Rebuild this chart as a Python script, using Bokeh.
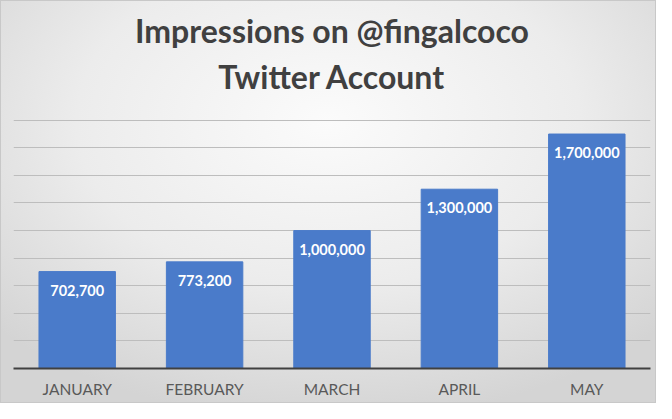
from bokeh.plotting import figure
from bokeh.models import ColumnDataSource, LabelSet, Title, Range1d, FixedTicker
from bokeh.embed import file_html
from bokeh.resources import INLINE
from bokeh.core.properties import value

title_lines = ["Impressions on @fingalcoco", "Twitter Account"]
months = ["JANUARY", "FEBRUARY", "MARCH", "APRIL", "MAY"]
impressions = [702700, 773200, 1000000, 1300000, 1700000]
labels = [f"{v:,}" for v in impressions]
grid_ticks = [200000 * i for i in range(10)]
y_max = 1800000

src = ColumnDataSource(dict(month=months, value=impressions, label=labels))

p = figure(x_range=months, y_range=Range1d(0, y_max * 1.003), width=656, height=403,
           output_backend="svg", toolbar_location=None,
           min_border_left=12, min_border_right=7, min_border_top=118, min_border_bottom=36)

p.styles = {"background": "radial-gradient(ellipse 70% 75% at 50% 30%, #fbfbfb 0%, #ececec 55%, #d4d4d4 100%)",
            "border": "1px solid #c8c8c8"}
p.background_fill_alpha = 0
p.border_fill_alpha = 0
p.outline_line_color = None
p.title = None

# spacer between plot frame and title block
p.add_layout(Title(text=" ", text_font_size="10px", standoff=8), "above")
# two-line chart title (bottom line added first: first added sits closest to the frame)
for line, gap in zip(reversed(title_lines), [6, 4]):
    p.add_layout(Title(text=line, align="center", text_font="Lato", text_font_size="32px",
                       text_font_style="bold", text_color="#404040", standoff=gap), "above")

p.vbar(x="month", top="value", width=0.6, source=src, fill_color="#4A7BCA",
       line_color="#4A7BCA")

p.add_layout(LabelSet(x="month", y="value", text="label", source=src,
                      text_align="center", text_baseline="top", y_offset=-13,
                      text_color="white", text_font=value("Lato"),
                      text_font_size="14.5px", text_font_style="bold"))

p.yaxis.visible = False
p.yaxis.ticker = FixedTicker(ticks=grid_ticks)
p.ygrid.ticker = FixedTicker(ticks=grid_ticks)
p.ygrid.grid_line_color = "#bdbdbd"
p.ygrid.grid_line_width = 1
p.xgrid.grid_line_color = None

p.xaxis.axis_line_color = "#404040"
p.xaxis.axis_line_width = 2
p.xaxis.major_tick_line_color = None
p.xaxis.minor_tick_line_color = None
p.xaxis.major_tick_out = 0
p.xaxis.major_tick_in = 0
p.xaxis.major_label_text_font = "Lato"
p.xaxis.major_label_text_font_size = "15.5px"
p.xaxis.major_label_text_color = "#595959"
p.xaxis.major_label_standoff = 11
p.x_range.range_padding = 0.0

open("out.html", "w").write(file_html(p, INLINE))
